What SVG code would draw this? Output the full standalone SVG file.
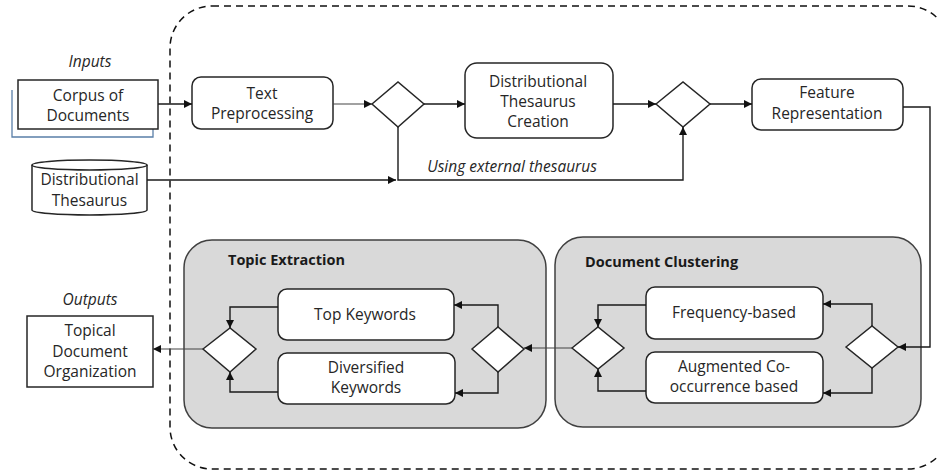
<svg xmlns="http://www.w3.org/2000/svg" width="939" height="473" viewBox="0 0 939 473">
  <style>
    .box { fill: #fff; stroke: #262626; stroke-width: 1.5; }
    .grp { fill: #d9d9d9; stroke: #404040; stroke-width: 1.5; }
    .dia { fill: #fff; stroke: #262626; stroke-width: 1.5; }
    .lbl { font-family: "Open Sans", "Noto Sans", sans-serif; font-size: 15.5px; fill: #262626; text-anchor: middle; }
    .it { font-style: italic; }
    .ttl { font-family: "Open Sans", "Noto Sans", sans-serif; font-size: 14.5px; font-weight: bold; fill: #1a1a1a; }
    .ln { fill: none; stroke: #1a1a1a; stroke-width: 1.4; }
    .thin { fill: none; stroke: #444; stroke-width: 1.1; }
  </style>
  <defs>
    <marker id="arr" viewBox="0 0 10 10" refX="10" refY="5" markerWidth="9" markerHeight="8" markerUnits="userSpaceOnUse" orient="auto">
      <path d="M0,0 L10,5 L0,10 z" fill="#111"/>
    </marker>
  </defs>

  <rect width="939" height="473" fill="#fff"/>

  <!-- system boundary -->
  <rect x="170" y="6" width="780" height="463" rx="42" ry="42" fill="none" stroke="#111" stroke-width="1.5" stroke-dasharray="7 5"/>

  <!-- inputs -->
  <text class="lbl it" x="90" y="67">Inputs</text>
  <g id="corpus">
    <polyline points="12,90 12,137 153,137 153,129" fill="none" stroke="#5a7fa8" stroke-width="1.3"/>
    <rect class="box" x="18" y="80" width="140" height="49"/>
    <text class="lbl" x="88" y="101">Corpus of</text>
    <text class="lbl" x="88" y="121">Documents</text>
  </g>
  <g id="ext-thesaurus">
    <path class="box" d="M32,165 A57.5,5 0 0 1 147,165 V210 A57.5,5 0 0 1 32,210 Z"/>
    <path d="M32,165 A57.5,5 0 0 0 147,165" fill="none" stroke="#262626" stroke-width="1.5"/>
    <text class="lbl" x="89.5" y="185">Distributional</text>
    <text class="lbl" x="89.5" y="206">Thesaurus</text>
  </g>

  <!-- pipeline -->
  <g id="text-prep">
    <rect class="box" x="192" y="77" width="141" height="52" rx="9"/>
    <text class="lbl" x="262" y="99">Text</text>
    <text class="lbl" x="262" y="119">Preprocessing</text>
  </g>
  <g id="gate-1">
    <polygon class="dia" points="372,104 398,82 424,104 398,127"/>
  </g>
  <g id="dt-creation">
    <rect class="box" x="465" y="63" width="148" height="75" rx="12"/>
    <text class="lbl" x="538" y="87">Distributional</text>
    <text class="lbl" x="538" y="107">Thesaurus</text>
    <text class="lbl" x="538" y="127">Creation</text>
  </g>
  <g id="gate-2">
    <polygon class="dia" points="656,104 683,82 710,104 683,127"/>
  </g>
  <g id="feature-rep">
    <rect class="box" x="752" y="79" width="151" height="51" rx="9"/>
    <text class="lbl" x="827" y="98">Feature</text>
    <text class="lbl" x="827" y="119">Representation</text>
  </g>

  <!-- document clustering -->
  <g id="doc-clustering">
    <rect class="grp" x="555" y="237" width="366" height="190" rx="28"/>
    <text class="ttl" x="585" y="267">Document Clustering</text>
    <polygon class="dia" points="846,347 872,326 898,347 872,368"/>
    <polygon class="dia" points="572,348 598,327 624,348 598,369"/>
  </g>
  <g id="freq-based">
    <rect class="box" x="646" y="287" width="177" height="52" rx="9"/>
    <text class="lbl" x="734" y="318">Frequency-based</text>
  </g>
  <g id="aug-cooc">
    <rect class="box" x="646" y="352" width="177" height="51" rx="9"/>
    <text class="lbl" x="734" y="372">Augmented Co-</text>
    <text class="lbl" x="734" y="392">occurrence based</text>
  </g>

  <!-- topic extraction -->
  <g id="topic-extraction">
    <rect class="grp" x="184" y="240" width="362" height="188" rx="28"/>
    <text class="ttl" x="228" y="265">Topic Extraction</text>
    <polygon class="dia" points="472,349 498,327 524,349 498,372"/>
    <polygon class="dia" points="203,349 230,328 256,349 230,372"/>
  </g>
  <g id="top-keywords">
    <rect class="box" x="278" y="289" width="176" height="51" rx="9"/>
    <text class="lbl" x="365" y="320">Top Keywords</text>
  </g>
  <g id="div-keywords">
    <rect class="box" x="278" y="353" width="177" height="51" rx="9"/>
    <text class="lbl" x="366" y="373">Diversified</text>
    <text class="lbl" x="366" y="393">Keywords</text>
  </g>

  <!-- outputs -->
  <text class="lbl it" x="90" y="305">Outputs</text>
  <g id="topical-org">
    <rect class="box" x="27" y="316" width="126" height="71"/>
    <text class="lbl" x="90" y="336">Topical</text>
    <text class="lbl" x="90" y="357">Document</text>
    <text class="lbl" x="90" y="377">Organization</text>
  </g>

  <!-- connectors -->
  <g id="connectors">
    <line class="ln" x1="158" y1="104" x2="192" y2="104" marker-end="url(#arr)"/>
    <line class="thin" x1="333" y1="104" x2="372" y2="104" marker-end="url(#arr)"/>
    <line class="ln" x1="424" y1="104" x2="465" y2="104" marker-end="url(#arr)"/>
    <line class="ln" x1="613" y1="104" x2="656" y2="104" marker-end="url(#arr)"/>
    <line class="ln" x1="710" y1="104" x2="752" y2="104" marker-end="url(#arr)"/>
    <line class="ln" x1="147" y1="180" x2="396" y2="180" marker-end="url(#arr)"/>
    <polyline class="ln" points="398,127 398,180 683,180 683,127" marker-end="url(#arr)"/>
    <text class="lbl it" x="512" y="172">Using external thesaurus</text>
    <polyline class="ln" points="903,107 930,107 930,347 898,347" marker-end="url(#arr)"/>
    <polyline class="ln" points="872,326 872,304 823,304" marker-end="url(#arr)"/>
    <polyline class="ln" points="872,368 872,393 823,393" marker-end="url(#arr)"/>
    <polyline class="ln" points="646,305 598,305 598,327" marker-end="url(#arr)"/>
    <polyline class="ln" points="646,391 598,391 598,369" marker-end="url(#arr)"/>
    <line class="thin" x1="572" y1="348" x2="524" y2="348" marker-end="url(#arr)"/>
    <polyline class="ln" points="498,327 498,305 454,305" marker-end="url(#arr)"/>
    <polyline class="ln" points="498,372 498,393 455,393" marker-end="url(#arr)"/>
    <polyline class="ln" points="278,307 230,307 230,328" marker-end="url(#arr)"/>
    <polyline class="ln" points="278,392 230,392 230,372" marker-end="url(#arr)"/>
    <line class="thin" x1="203" y1="349" x2="153" y2="349" marker-end="url(#arr)"/>
  </g>
</svg>
